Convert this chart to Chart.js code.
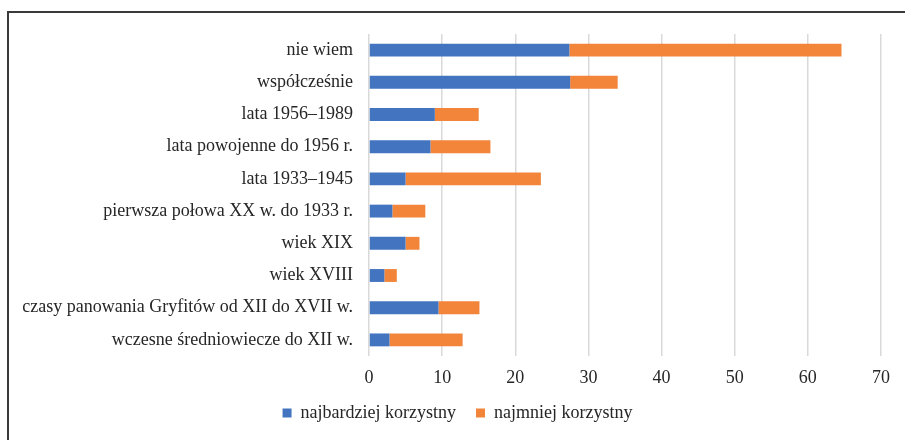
<!DOCTYPE html>
<html lang="pl">
<head>
<meta charset="utf-8">
<script src="https://cdn.jsdelivr.net/npm/chart.js@4.4.1/dist/chart.umd.min.js"></script>
<style>
  html, body { margin: 0; padding: 0; background: #fff; }
  #wrap { position: relative; width: 905px; height: 440px; overflow: hidden; }
  #frame { position: absolute; left: 7px; top: 11px; width: 1000px; height: 500px;
           border-top: 2px solid #3a3a3a; border-left: 2px solid #3a3a3a; }
  #chart { position: absolute; left: 0; top: 0; }
</style>
</head>
<body>
<div id="wrap">
  <div id="frame"></div>
  <canvas id="chart" width="905" height="440"></canvas>
</div>
<script>
// Kategorie (od góry do dołu) i wartości serii
const categories = [
    'nie wiem',
    'współcześnie',
    'lata 1956–1989',
    'lata powojenne do 1956 r.',
    'lata 1933–1945',
    'pierwsza połowa XX w. do 1933 r.',
    'wiek XIX',
    'wiek XVIII',
    'czasy panowania Gryfitów od XII do XVII w.',
    'wczesne średniowiecze do XII w.'
];
const mostFavourable = [27.4, 27.5, 9.0, 8.4, 5.0, 3.2, 5.0, 2.1, 9.5, 2.8];
const leastFavourable = [37.2, 6.5, 6.0, 8.2, 18.5, 4.5, 1.9, 1.7, 5.6, 10.0];
const seriesNames = ['najbardziej korzystny', 'najmniej korzystny'];

const font = "'Liberation Serif', 'Times New Roman', serif";
const textColor = '#262626';

// legenda: stała wysokość i przesunięcie (jak w oryginale)
const legendBox = {
    id: 'legendBox',
    afterInit(chart) {
        const legend = chart.legend;
        const fit = legend.fit;
        legend.fit = function () {
            fit.call(this);
            this.height = 51;
        };
    },
    afterLayout(chart) {
        const legend = chart.legend;
        legend.top -= 5;
        legend.bottom -= 5;
        legend.left += 17;
        legend.right += 17;
    }
};

const ctx = document.getElementById('chart').getContext('2d');
new Chart(ctx, {
    type: 'bar',
    data: {
        labels: categories,
        datasets: [
            {
                label: seriesNames[0],
                data: mostFavourable,
                backgroundColor: '#4274c0',
                barPercentage: 0.4,
                categoryPercentage: 1.0
            },
            {
                label: seriesNames[1],
                data: leastFavourable,
                backgroundColor: '#f2853a',
                barPercentage: 0.4,
                categoryPercentage: 1.0
            }
        ]
    },
    options: {
        indexAxis: 'y',
        responsive: false,
        animation: false,
        layout: { padding: { top: 34, right: 24, left: 0, bottom: 0 } },
        scales: {
            x: {
                stacked: true,
                min: 0,
                max: 70,
                ticks: { stepSize: 10, color: textColor, font: { family: font, size: 18 }, padding: 11 },
                grid: { color: '#d9d9d9', lineWidth: 1.5, drawTicks: false },
                border: { display: false },
                afterFit: (scale) => { scale.height = 33; }
            },
            y: {
                stacked: true,
                ticks: { color: textColor, font: { family: font, size: 18 }, padding: 16, autoSkip: false },
                grid: { display: false, drawTicks: false },
                border: { display: false },
                afterFit: (scale) => { scale.width = 369; }
            }
        },
        plugins: {
            legend: {
                position: 'bottom',
                labels: {
                    color: textColor,
                    font: { family: font, size: 18 },
                    boxWidth: 9,
                    boxHeight: 9,
                    padding: 20
                }
            },
            tooltip: { enabled: false }
        }
    },
    plugins: [legendBox]
});
</script>
</body>
</html>
